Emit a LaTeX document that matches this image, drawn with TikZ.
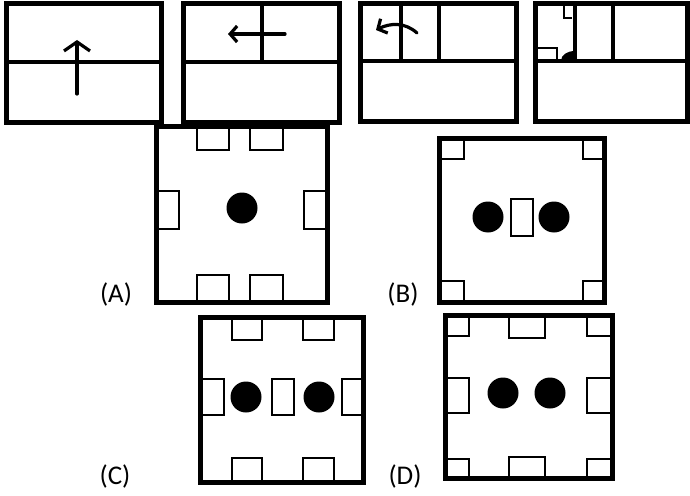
\documentclass[tikz,border=0pt]{standalone}
\usepackage{fontspec}
\setmainfont{Carlito}
\usetikzlibrary{arrows.meta}

\tikzset{
  frame/.style={line width=5pt},
  part/.style={line width=3.6pt},
  slot/.style={line width=2.3pt, fill=white},
  dot/.style={fill=black},
  hand/.style={line width=3.2pt, line cap=round, -{Straight Barb[length=7pt, width=16pt]}},
  lbl/.style={font=\fontsize{27}{32}\selectfont, inner sep=0pt},
}

% square answer figure: frame corners, then slots and dots drawn inside
\NewDocumentCommand{\optfig}{mmmm}{%
\foreach \p/\q in {#3} {\draw[slot] (\p) rectangle (\q);}%
\foreach \c in {#4} {\fill[dot] (\c) circle[radius=15.5pt];}%
\draw[frame] (#1) rectangle (#2);%
}

\begin{document}
\begin{tikzpicture}[x=1pt, y=-1pt]
\useasboundingbox (0,0) rectangle (690,495);
\fill[white] (0,0) rectangle (690,495);

% folding steps
\draw[frame] (6,4) rectangle (161,122);
\draw[part] (6,62) -- (161,62);
\draw[hand, -{Straight Barb[length=9pt, width=26pt]}] (77,94) -- (77,40);

\draw[frame] (183,4) rectangle (339,122);
\draw[part] (183,62) -- (339,62) (262,4) -- (262,62);
\draw[hand] (285,34) -- (228,34);

\draw[frame] (360,4) rectangle (516,121);
\draw[part] (360,61) -- (516,61) (401,4) -- (401,61) (439,4) -- (439,61);
\draw[hand] (417,33) .. controls (405,22) and (390,23) .. (376,30);

\draw[frame] (535,4) rectangle (687,121);
\draw[part] (535,61) -- (687,61) (575,4) -- (575,61) (613,4) -- (613,61);
\draw[line width=1.8pt] (564,4) -- (564,18) -- (572,18);
\draw[line width=1.8pt] (535,48) -- (557,48) -- (557,61);
\fill (575,61) -- (561,61) .. controls (561,55) and (567,51) .. (575,51) -- cycle;

% options
\optfig{156,126}{327,302}{
  {197,126}/{229,150}, {250,126}/{283,150},
  {197,275}/{229,302}, {250,275}/{283,302},
  {156,191}/{179,229}, {304,191}/{327,229}}{{242,208}}
\optfig{439,138}{604,302}{
  {439,138}/{464,159}, {583,138}/{604,159},
  {439,281}/{464,302}, {583,281}/{604,302},
  {511,199}/{533,236}}{{488,217}, {554,217}}
\optfig{200,317}{363,482}{
  {232,317}/{262,340}, {303,317}/{334,340},
  {232,458}/{262,482}, {303,458}/{334,482},
  {200,379}/{224,415}, {342,379}/{363,415},
  {272,379}/{294,415}}{{246,397}, {319,397}}
\optfig{445,315}{612,478}{
  {445,315}/{469,336}, {587,315}/{612,336},
  {445,459}/{469,478}, {587,459}/{612,478},
  {509,315}/{545,338}, {509,457}/{545,478},
  {445,378}/{469,413}, {587,378}/{612,413}}{{503,393}, {550,393}}

\node[lbl] (labA) at (116,294) {(A)};
\node[lbl] (labB) at (403,294) {(B)};
\node[lbl] (labC) at (115,476) {(C)};
\node[lbl] (labD) at (405,476) {(D)};
\end{tikzpicture}
\end{document}
